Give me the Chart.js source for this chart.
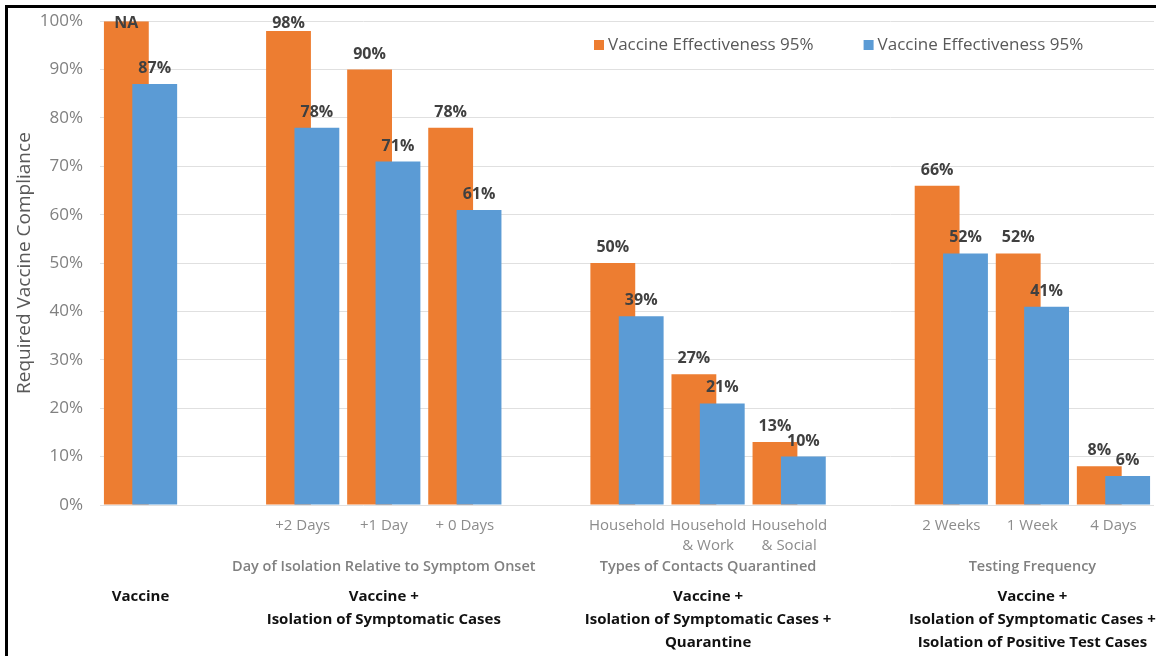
<!DOCTYPE html>
<html>
<head>
<meta charset="utf-8">
<script src="https://cdn.jsdelivr.net/npm/chart.js@4"></script>
<style>
  html, body { margin: 0; padding: 0; background: #fff; }
  #frame {
    position: absolute; left: 5px; top: 5px;
    width: 1148px; height: 648px;
    border-left: 3px solid #000; border-top: 3px solid #000;
  }
  #chart { display: block; }
</style>
</head>
<body>
<div id="frame"><canvas id="chart" width="1148" height="648"></canvas></div>
<script>
// categories (empty slots separate the strategy groups)
const dayLabels = ['', '', '+2 Days', '+1 Day', '+ 0 Days', '',
  'Household', ['Household', '& Work'], ['Household', '& Social'], '',
  '2 Weeks', '1 Week', '4 Days'];
const groupTitles = ['', '', '', 'Day of Isolation Relative to Symptom Onset', '', '',
  '', 'Types of Contacts Quarantined', '', '', '', 'Testing Frequency', ''];
const strategyTitles = [['Vaccine'], '', '', ['Vaccine +', 'Isolation of Symptomatic Cases'], '', '',
  '', ['Vaccine +', 'Isolation of Symptomatic Cases +', 'Quarantine'], '', '',
  '', ['Vaccine +', 'Isolation of Symptomatic Cases +', 'Isolation of Positive Test Cases'], ''];

// required compliance, %
const orangeValues = [100, null, 98, 90, 78, null, 50, 27, 13, null, 66, 52, 8];
const blueValues = [87, null, 78, 71, 61, null, 39, 21, 10, null, 52, 41, 6];
const orangeTextOverride = { 0: 'NA' };

const seriesNames = ['Vaccine Effectiveness 95%', 'Vaccine Effectiveness 95%'];
const yTicks = [0, 10, 20, 30, 40, 50, 60, 70, 80, 90, 100];

Chart.defaults.font.family = "'Open Sans', sans-serif";

// blue bars sit on top of the orange ones, then the value labels and legend
const overlayPlugin = {
  id: 'overlay',
  beforeDatasetDraw(chart, args) {
    if (args.index === 1) return false;
  },
  afterDatasetsDraw(chart) {
    chart.getDatasetMeta(1).controller.draw();
  },
  afterDraw(chart) {
    const ctx = chart.ctx;
    ctx.save();
    ctx.font = "bold 16px 'Open Sans', sans-serif";
    ctx.fillStyle = '#404040';
    ctx.textAlign = 'center';
    ctx.textBaseline = 'alphabetic';
    chart.data.datasets.forEach((ds, di) => {
      const meta = chart.getDatasetMeta(di);
      meta.data.forEach((bar, i) => {
        const v = ds.data[i];
        if (v === null) return;
        let txt = v + '%';
        if (di === 0 && orangeTextOverride[i]) txt = orangeTextOverride[i];
        const y = Math.max(bar.y - 11, 20);
        ctx.fillText(txt, bar.x, y);
      });
    });

    // legend
    ctx.font = "17px 'Open Sans', sans-serif";
    ctx.textAlign = 'left';
    ctx.textBaseline = 'middle';
    let x = 586;
    const cy = 37;
    chart.data.datasets.forEach(ds => {
      ctx.fillStyle = ds.backgroundColor;
      ctx.fillRect(x, cy - 5, 10, 10);
      ctx.fillStyle = '#595959';
      ctx.fillText(ds.label, x + 14, cy);
      x += 14 + ctx.measureText(ds.label).width + 50;
    });
    ctx.restore();
  }
};

new Chart(document.getElementById('chart'), {
  type: 'bar',
  data: {
    labels: dayLabels,
    datasets: [
      {
        label: seriesNames[0],
        data: orangeValues,
        backgroundColor: '#ED7D31',
        categoryPercentage: 0.7,
        barPercentage: 1.58
      },
      {
        label: seriesNames[1],
        data: blueValues,
        backgroundColor: '#5B9BD5',
        categoryPercentage: 0.7,
        barPercentage: 1.58
      }
    ]
  },
  options: {
    responsive: false,
    animation: false,
    layout: { padding: { top: 0, right: 2, left: 0, bottom: 0 } },
    plugins: {
      legend: { display: false },
      tooltip: { enabled: false }
    },
    scales: {
      x: {
        weight: 0,
        grid: { display: false },
        border: { display: false },
        ticks: {
          color: '#8c8c8c',
          font: { size: 15, lineHeight: 1.3 },
          padding: 3,
          autoSkip: false,
          maxRotation: 0,
          minRotation: 0
        },
        afterFit: s => { s.height = 45; }
      },
      x2: {
        type: 'category',
        position: 'bottom',
        weight: 1,
        offset: true,
        labels: groupTitles,
        grid: { display: false },
        border: { display: false },
        ticks: {
          color: '#808080',
          font: { size: 14.5, weight: '600' },
          padding: 0,
          autoSkip: false,
          maxRotation: 0,
          minRotation: 0
        },
        afterFit: s => { s.height = 27; }
      },
      x3: {
        type: 'category',
        position: 'bottom',
        weight: 2,
        offset: true,
        labels: strategyTitles,
        grid: { display: false },
        border: { display: false },
        ticks: {
          color: '#111',
          font: { size: 15, weight: 'bold', lineHeight: 1.55 },
          padding: 0,
          autoSkip: false,
          maxRotation: 0,
          minRotation: 0
        },
        afterFit: s => { s.height = 79; }
      },
      y: {
        min: yTicks[0],
        max: yTicks[yTicks.length - 1],
        afterBuildTicks: s => { s.ticks = yTicks.map(v => ({ value: v })); },
        grid: { color: '#e0e0e0', drawTicks: true, tickLength: 14, tickColor: 'rgba(0,0,0,0)' },
        border: { display: false },
        ticks: {
          color: '#808080',
          font: { size: 17 },
          padding: 3,
          callback: v => v + '%'
        },
        title: {
          display: true,
          text: 'Required Vaccine Compliance',
          color: '#595959',
          font: { size: 19 },
          padding: { top: 5, bottom: 0 }
        },
        afterFit: s => { s.width = 92; }
      }
    }
  },
  plugins: [overlayPlugin]
});
</script>
</body>
</html>
